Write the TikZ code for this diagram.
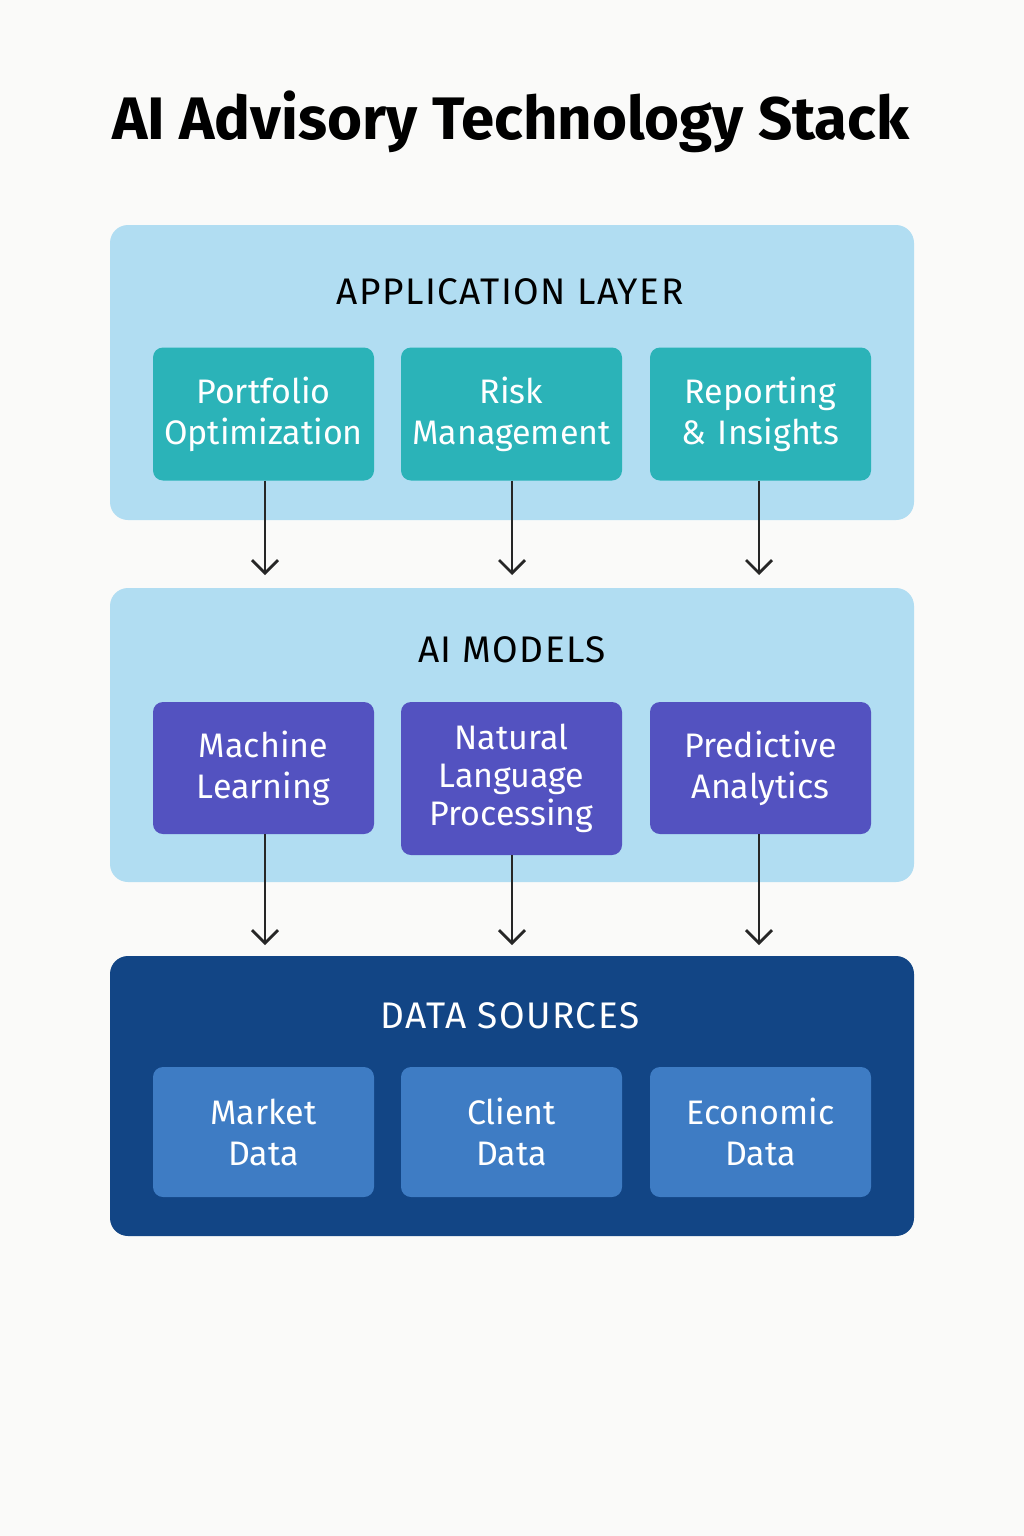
\documentclass[tikz,border=0pt]{standalone}
\usepackage{fontspec}
\setmainfont{Fira Sans}
\usetikzlibrary{arrows.meta}
\definecolor{bg}{HTML}{FAFAF9}
\definecolor{lay}{HTML}{B1DDF2}
\definecolor{teal}{HTML}{2BB3B8}
\definecolor{purp}{HTML}{5352C0}
\definecolor{dark}{HTML}{124585}
\definecolor{blu}{HTML}{3E7CC4}
\tikzset{
 layer/.style={rounded corners=18pt},
 box/.style={rounded corners=10pt, minimum width=221pt, text width=215pt, align=center, text=white, font=\fontsize{34}{41}\selectfont, inner sep=0pt},
 ltitle/.style={font=\fontsize{37}{44}\selectfont\addfontfeatures{LetterSpace=4}},
 arr/.style={-{Straight Barb[length=13pt,width=26pt]}, line width=2.8pt, draw=black!85}
}
\begin{document}
\begin{tikzpicture}[x=1pt,y=-1pt]
\fill[bg] (0,0) rectangle (1024,1536);
\useasboundingbox (0,0) rectangle (1024,1536);
\node[font=\fontsize{60}{70}\selectfont\bfseries] (title) at (511,122) {AI Advisory Technology Stack};
\fill[lay,layer] (110,225) rectangle (914,520);
\fill[lay,layer] (110,588) rectangle (914,882);
\fill[dark,layer] (110,956) rectangle (914,1236);
\node[ltitle] (t1) at (510,292) {APPLICATION LAYER};
\node[ltitle] (t2) at (512,650) {AI MODELS};
\node[ltitle,text=white] (t3) at (510,1016) {DATA SOURCES};
\node[box,fill=teal,minimum height=133pt] (a1) at (263.5,414) {Portfolio\\Optimization};
\node[box,fill=teal,minimum height=133pt] (a2) at (511.5,414) {Risk\\Management};
\node[box,fill=teal,minimum height=133pt] (a3) at (760.5,414) {Reporting\\\& Insights};
\node[box,fill=purp,minimum height=132pt] (m1) at (263.5,768) {Machine\\Learning};
\node[box,fill=purp,minimum height=153pt,font=\fontsize{34}{38}\selectfont] (m2) at (511.5,778.5) {Natural\\Language\\Processing};
\node[box,fill=purp,minimum height=132pt] (m3) at (760.5,768) {Predictive\\Analytics};
\node[box,fill=blu,minimum height=130pt] (d1) at (263.5,1132) {Market\\Data};
\node[box,fill=blu,minimum height=130pt] (d2) at (511.5,1132) {Client\\Data};
\node[box,fill=blu,minimum height=130pt] (d3) at (760.5,1132) {Economic\\Data};
\coordinate (e1) at (265,575); \coordinate (e2) at (512,575); \coordinate (e3) at (759,575);
\coordinate (f1) at (265,945); \coordinate (f2) at (512,945); \coordinate (f3) at (759,945);
\draw[arr] (a1.south -| e1) -- (e1);
\draw[arr] (a2.south -| e2) -- (e2);
\draw[arr] (a3.south -| e3) -- (e3);
\draw[arr] (m1.south -| f1) -- (f1);
\draw[arr] (m2.south -| f2) -- (f2);
\draw[arr] (m3.south -| f3) -- (f3);
\end{tikzpicture}
\end{document}
